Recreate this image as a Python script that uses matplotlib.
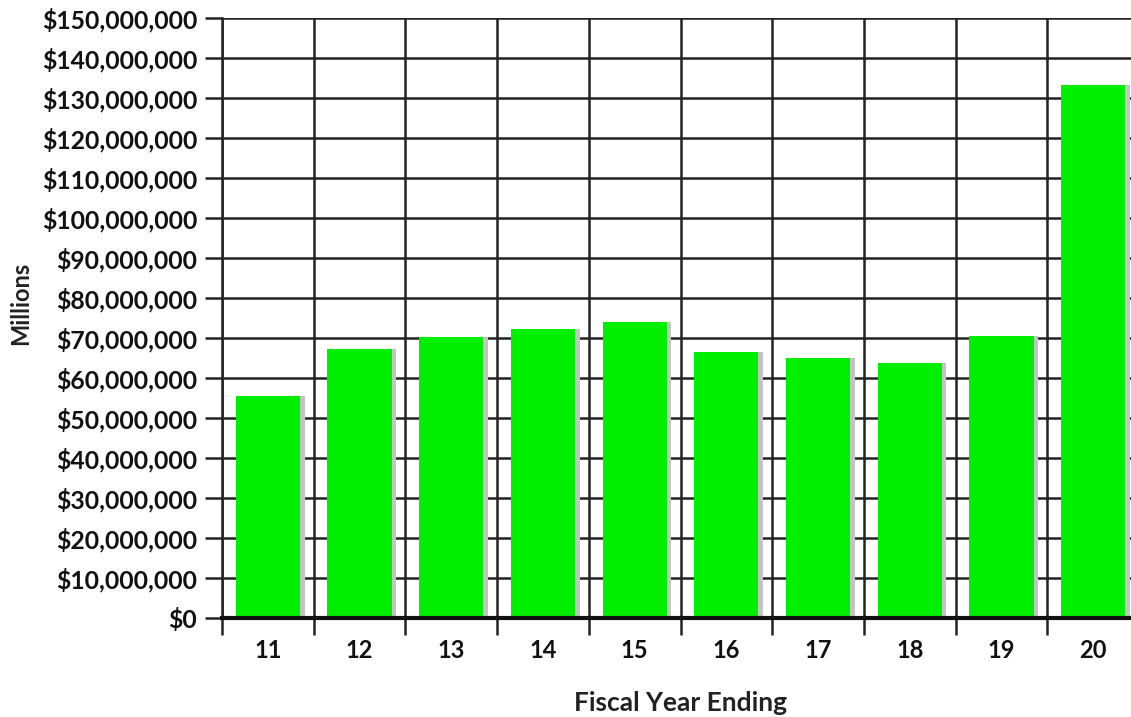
import matplotlib
matplotlib.use("Agg")
import matplotlib.pyplot as plt
from matplotlib.ticker import FuncFormatter, MultipleLocator, FixedLocator

years = ["11", "12", "13", "14", "15", "16", "17", "18", "19", "20"]
values = [55.5e6, 67.3e6, 70.3e6, 72.3e6, 74.0e6, 66.6e6, 65.1e6, 63.8e6, 70.5e6, 133.2e6]

plt.rcParams['font.family'] = ['Lato', 'DejaVu Sans']

fig = plt.figure(figsize=(11.31, 7.17), dpi=100)
ax = fig.add_axes([222/1131, 1 - 618/717, (1131-222)/1131, 600/717])

x = list(range(1, len(years) + 1))
ax.bar([i + 0.05 for i in x], values, width=0.7, color="#c4c4c4", zorder=2, linewidth=0)
ax.bar(x, values, width=0.7, color="#00ee00", zorder=3, linewidth=0)

ax.set_ylim(0, 150e6)
ax.set_xlim(0.5, 0.5 + 909/91.7)
ax.yaxis.set_major_locator(MultipleLocator(10e6))
ax.yaxis.set_major_formatter(FuncFormatter(lambda v, p: "$0" if v == 0 else "${:,.0f}".format(v)))

ax.set_xticks(x)
ax.set_xticklabels(years)
ax.xaxis.set_minor_locator(FixedLocator([i + 0.5 for i in range(0, 11)]))
ax.tick_params(axis='x', which='major', length=0, pad=15, labelsize=17)
ax.tick_params(axis='x', which='minor', length=12, width=1.8, color="#222222", direction='out')
ax.tick_params(axis='y', which='major', length=12, width=1.8, color="#222222", pad=6, labelsize=17.8)
for lab in ax.get_xticklabels() + ax.get_yticklabels():
    lab.set_fontweight('bold')
    lab.set_color("#111111")

ax.grid(axis='y', which='major', color="#222222", linewidth=1.8, zorder=1)
ax.grid(axis='x', which='minor', color="#222222", linewidth=1.8, zorder=1)
ax.set_axisbelow(True)

for s in ['top', 'right']:
    ax.spines[s].set_visible(False)
ax.spines['left'].set_color("#222222")
ax.spines['left'].set_linewidth(1.8)
ax.spines['bottom'].set_color("#111111")
ax.spines['bottom'].set_linewidth(3)
ax.spines['bottom'].set_zorder(4)

fig.text(21/1131, 1 - 303/717, "Millions", rotation=90, ha='center', va='center',
         fontsize=17, fontweight='bold', color="#222222")
fig.text(680/1131, 1 - 703/717, "Fiscal Year Ending", ha='center', va='center',
         fontsize=19, fontweight='bold', color="#222222")

fig.savefig("out.png", dpi=100)
